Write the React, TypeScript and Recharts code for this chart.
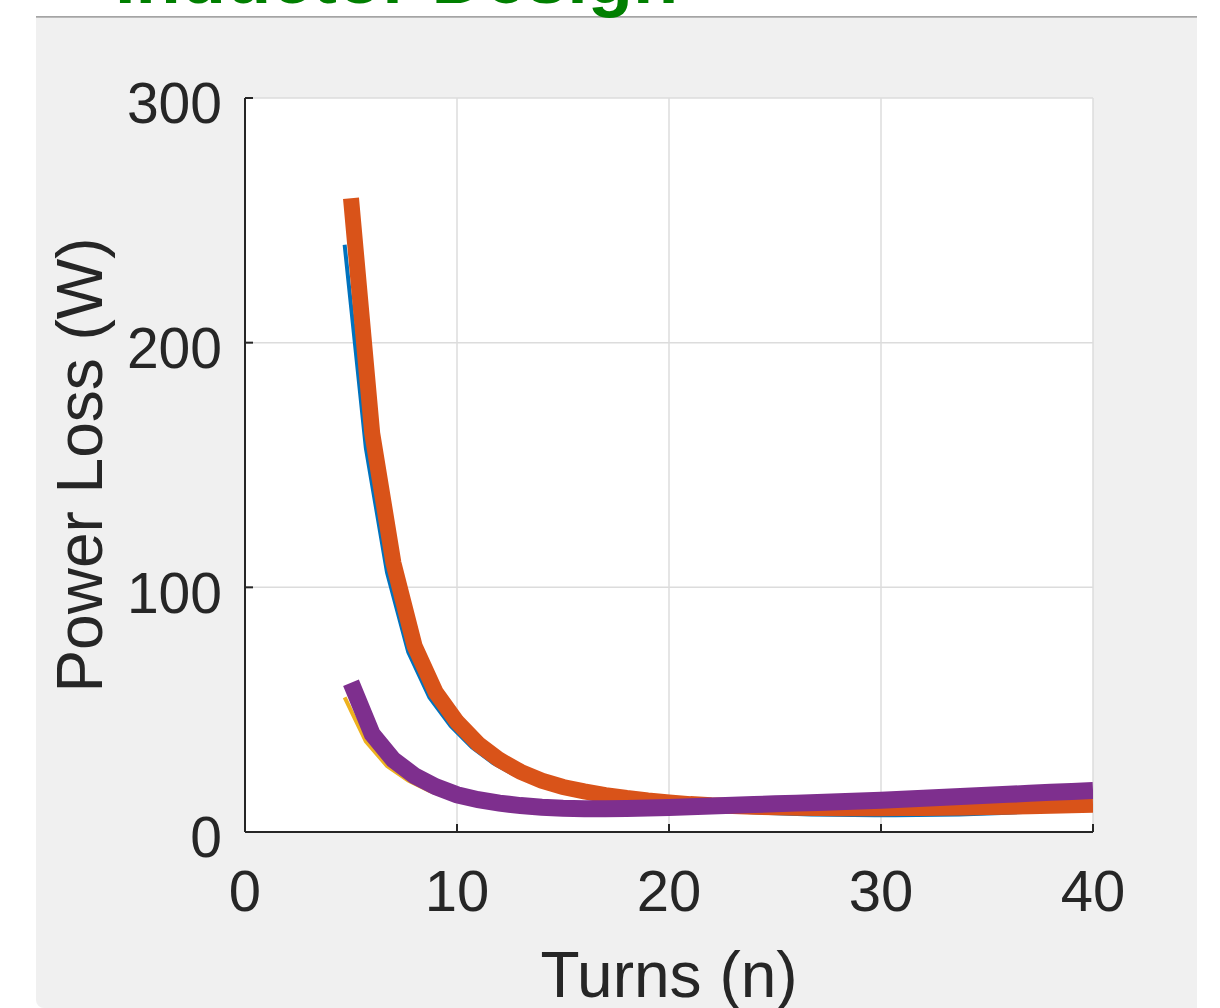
import { LineChart, Line, XAxis, YAxis, CartesianGrid, Label } from 'recharts';

// thick series (orange, purple) sit on whole turns; the thin ones (blue, yellow) sit a little to the left
const turns = [5, 6, 7, 8, 9, 10, 11, 12, 13, 14, 15, 16, 17, 18, 19, 20, 21, 22, 23, 24, 25, 26, 27, 28, 29, 30, 31, 32, 33, 34, 35, 36, 37, 38, 39, 40];
const turnsThin = [4.7, 5.7, 6.7, 7.7, 8.7, 9.7, 10.7, 11.7, 12.7, 13.7, 14.7, 15.7, 16.7, 17.7, 18.7, 19.7, 20.7, 21.7, 22.7, 23.7, 24.7, 25.7, 26.7, 27.7, 28.7, 29.7, 30.7, 31.7, 32.7, 33.7, 34.7, 35.7, 36.7, 37.7, 38.7, 39.7];

const lossOrange = [259, 163, 110, 76, 57, 45, 36, 29.5, 24.6, 21, 18.4, 16.6, 15.1, 13.9, 12.9, 12.1, 11.4, 10.9, 10.6, 10.3, 10.1, 9.9, 9.8, 9.7, 9.7, 9.7, 9.8, 9.8, 9.9, 10, 10.2, 10.3, 10.5, 10.7, 10.9, 11.1];
const lossPurple = [61, 40, 29.5, 23, 18.5, 15.2, 13.2, 11.8, 10.8, 10.1, 9.7, 9.5, 9.5, 9.6, 9.8, 10, 10.3, 10.6, 10.9, 11.2, 11.5, 11.8, 12.1, 12.4, 12.7, 13, 13.4, 13.8, 14.2, 14.6, 15, 15.4, 15.8, 16.2, 16.6, 17];
const lossBlue = [240, 157, 106, 73.5, 55, 43.3, 34.6, 28.2, 23.4, 19.9, 17.3, 15.4, 13.9, 12.6, 11.5, 10.6, 9.8, 9.1, 8.6, 8.2, 7.8, 7.5, 7.2, 7, 6.9, 6.8, 6.8, 6.9, 7, 7.2, 7.5, 7.8, 8.2, 8.6, 9.1, 9.7];
const lossYellow = [55, 37, 27, 21, 16.8, 13.8, 12, 10.8, 9.9, 9.3, 8.9, 8.7, 8.6, 8.7, 8.9, 9.1, 9.3, 9.6, 9.9, 10.2, 10.5, 10.8, 11.1, 11.4, 11.7, 12, 12.3, 12.7, 13.1, 13.5, 13.9, 14.3, 14.7, 15.1, 15.5, 15.9];

const xTicks = [0, 10, 20, 30, 40];
const yTicks = [0, 100, 200, 300];

const thickData = turns.map((n, i) => ({ n, orange: lossOrange[i], purple: lossPurple[i] }));
const thinData = turnsThin.map((n, i) => ({ n, blue: lossBlue[i], yellow: lossYellow[i] }));

const FONT = '"Liberation Sans", Arial, Helvetica, sans-serif';
const INK = '#262626';

const XTick = ({ x, y, payload }: any) => (
  <text x={x} y={y} dy="0.71em" textAnchor="middle" fill={INK} fontSize={58} fontFamily={FONT}>
    {payload.value}
  </text>
);

const YTick = ({ x, y, payload }: any) => (
  <text x={x} y={y + 5} dy="0.355em" textAnchor="end" fill={INK} fontSize={57} fontFamily={FONT}>
    {payload.value}
  </text>
);

export default function App() {
  return (
    <div style={{ position: 'absolute', left: 0, top: 0, width: 1220, height: 1008, overflow: 'hidden', background: '#fff' }}>
      {/* grey figure panel */}
      <div style={{ position: 'absolute', left: 36, top: 18, width: 1161, height: 990, background: '#f0f0f0', borderBottomLeftRadius: 8 }} />
      <div style={{ position: 'absolute', left: 36, top: 16, width: 1161, height: 2, background: 'linear-gradient(#9a9a9a, #c4c4c4)' }} />

      <LineChart
        width={1220}
        height={1008}
        margin={{ top: 98, right: 127, bottom: 116, left: 145 }}
        style={{ position: 'absolute', left: 0, top: 0 }}
      >
        <CartesianGrid stroke="#dcdcdc" strokeWidth={1.5} fill="#fff" horizontalValues={yTicks} verticalValues={xTicks} />
        <XAxis
          dataKey="n"
          type="number"
          domain={[0, 40]}
          ticks={xTicks}
          interval={0}
          height={60}
          allowDataOverflow
          axisLine={{ stroke: INK, strokeWidth: 2 }}
          tickLine={{ stroke: INK, strokeWidth: 2 }}
          tickSize={-8}
          tickMargin={46}
          tick={<XTick />}
        >
          <Label
            content={() => (
              <text x={669} y={997} textAnchor="middle" fill={INK} fontSize={64} fontFamily={FONT}>
                Turns (n)
              </text>
            )}
          />
        </XAxis>
        <YAxis
          type="number"
          domain={[0, 300]}
          ticks={yTicks}
          interval={0}
          width={100}
          allowDataOverflow
          axisLine={{ stroke: INK, strokeWidth: 2 }}
          tickLine={{ stroke: INK, strokeWidth: 2 }}
          tickSize={-8}
          tickMargin={31}
          tick={<YTick />}
        >
          <Label
            content={() => (
              <text x={102} y={465} transform="rotate(-90 102 465)" textAnchor="middle" fill={INK} fontSize={64} fontFamily={FONT}>
                Power Loss (W)
              </text>
            )}
          />
        </YAxis>
        <Line data={thinData} type="linear" dataKey="blue" stroke="#0072bd" strokeWidth={4} dot={false} isAnimationActive={false} />
        <Line data={thickData} type="linear" dataKey="orange" stroke="#d95319" strokeWidth={16} dot={false} isAnimationActive={false} />
        <Line data={thinData} type="linear" dataKey="yellow" stroke="#edb120" strokeWidth={4} dot={false} isAnimationActive={false} />
        <Line data={thickData} type="linear" dataKey="purple" stroke="#7e2f8e" strokeWidth={17} dot={false} isAnimationActive={false} />
      </LineChart>

      <svg width={1220} height={30} style={{ position: 'absolute', left: 0, top: 0 }}>
        <text x={115} y={3} fill="#007f00" fontSize={74} fontWeight="bold" fontFamily={FONT}>
          Inductor Design
        </text>
      </svg>
    </div>
  );
}
